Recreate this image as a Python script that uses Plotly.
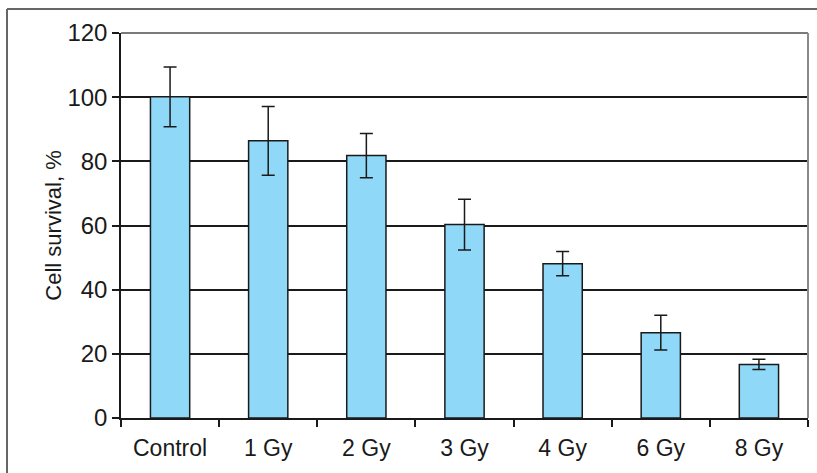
import plotly.graph_objects as go

categories = ["Control", "1 Gy", "2 Gy", "3 Gy", "4 Gy", "6 Gy", "8 Gy"]
survival = [100.1, 86.4, 81.8, 60.3, 48.1, 26.6, 16.7]
errors = [9.3, 10.7, 6.9, 7.9, 3.8, 5.4, 1.6]
y_ticks = [0, 20, 40, 60, 80, 100, 120]

fig = go.Figure()
fig.add_trace(go.Bar(
    x=categories, y=survival,
    marker=dict(color="#8fd8f7", line=dict(color="#1a1a1a", width=1.5)),
    error_y=dict(type="data", array=errors, visible=True, color="#1a1a1a",
                 thickness=1.5, width=6.5),
    width=0.4,
))

W, H = 817, 473
L, R, T, B = 121, 9, 33, 55
pw, ph = W - L - R, H - T - B

def px_x(x):
    return (x - L) / pw

def px_y(y):
    return (H - B - y) / ph

fig.update_layout(
    width=W, height=H,
    margin=dict(l=L, r=R, t=T, b=B, autoexpand=False),
    paper_bgcolor="white", plot_bgcolor="white",
    font=dict(family="Liberation Sans, Arial, sans-serif", size=22, color="#1a1a1a"),
    showlegend=False,
    xaxis=dict(
        showline=True, linecolor="#1a1a1a", linewidth=1.5,
        ticks="outside", ticklen=7, tickwidth=1.5, tickcolor="#1a1a1a",
        tickson="boundaries", showgrid=False, automargin=False,
        tickfont=dict(size=23), range=[-0.5, 6.5], ticklabelstandoff=9,
    ),
    yaxis=dict(
        range=[0, 120], tickvals=y_ticks,
        showline=True, linecolor="#1a1a1a", linewidth=1.5,
        ticks="outside", ticklen=7, tickwidth=1.5, tickcolor="#1a1a1a",
        showgrid=True, gridcolor="#1a1a1a", gridwidth=1.5,
        zeroline=False, tickfont=dict(size=24), automargin=False,
        title=dict(text="Cell survival, %", font=dict(size=22), standoff=0),
    ),
    shapes=[
        dict(type="line", xref="paper", yref="paper", x0=0, x1=1, y0=1, y1=1,
             line=dict(color="#7a7a7a", width=2)),
        dict(type="line", xref="paper", yref="paper", x0=1, x1=1, y0=0, y1=1,
             line=dict(color="#8a8a8a", width=2)),
        dict(type="line", xref="paper", yref="paper",
             x0=px_x(7), x1=px_x(W + 5), y0=px_y(9), y1=px_y(9),
             line=dict(color="#666666", width=2)),
        dict(type="line", xref="paper", yref="paper",
             x0=px_x(7), x1=px_x(7), y0=px_y(9), y1=px_y(H + 5),
             line=dict(color="#666666", width=2)),
    ],
)

fig.write_html("out.html", config={"displayModeBar": False},
               post_script="document.body.style.margin='0';")
